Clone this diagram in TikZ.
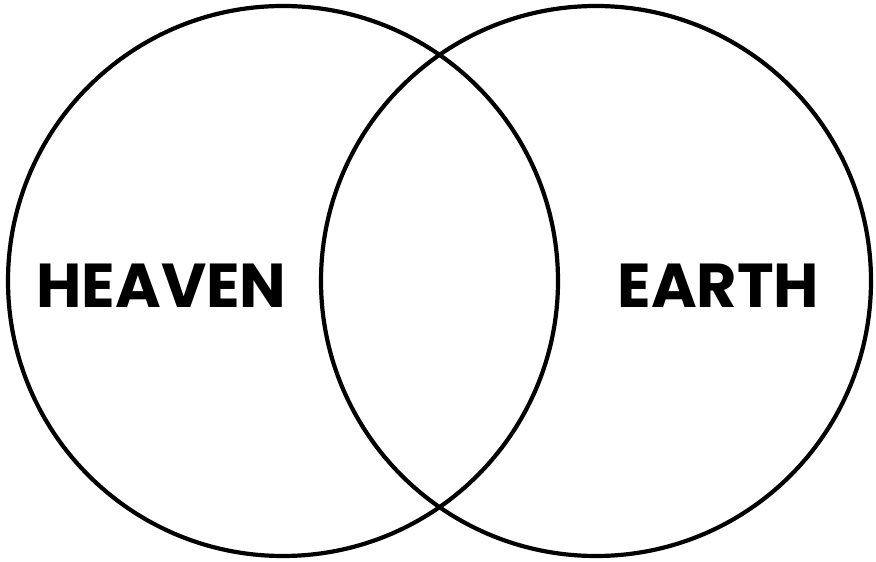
\documentclass[tikz,border=0pt]{standalone}
\usepackage{fontspec}
\setmainfont{Poppins}
\begin{document}
\begin{tikzpicture}[x=1pt,y=1pt,
  setcircle/.style={draw=black,line width=4.2pt,circle,minimum size=550pt,inner sep=0pt},
  setlabel/.style={font=\fontsize{62}{66}\selectfont\bfseries,inner sep=0pt,text=black}]
\useasboundingbox (0,0) rectangle (876,562);
\node[setcircle] (heaven) at (283,281) {};
\node[setcircle] (earth) at (596,281) {};
\node[setlabel] (lh) at (161.5,276) {HEAVEN};
\node[setlabel] (le) at (718.5,276) {EARTH};
\end{tikzpicture}
\end{document}
